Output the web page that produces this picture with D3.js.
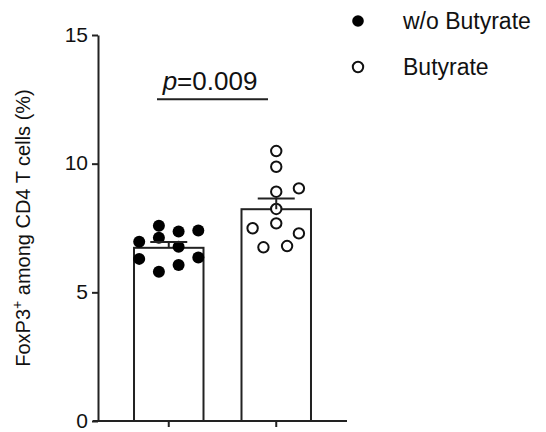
<!DOCTYPE html>
<html>
<head>
<meta charset="utf-8">
<script src="https://cdn.jsdelivr.net/npm/d3@7"></script>
<style>
  html, body { margin: 0; padding: 0; background: #fff; }
  svg { display: block; font-family: "Liberation Sans", Arial, sans-serif; }
</style>
</head>
<body>
<svg id="chart" width="546" height="432"></svg>
<script>
// Groups and their bar summaries (mean ± SEM, %)
const groups = ["w/o Butyrate", "Butyrate"];
const means = [6.73, 8.23];
const sems = [0.23, 0.42];

// Individual samples per group, with the dot column each one sits in
const ctrlValues = [7.59, 6.97, 7.12, 7.36, 7.40, 6.77, 6.30, 6.35, 6.06, 5.80];
const ctrlSlots  = [-0.5, -1.5, -0.5, 0.5, 1.5, 0.5, -1.5, 1.5, 0.5, -0.5];
const butValues  = [10.49, 9.88, 8.91, 9.04, 8.24, 7.68, 7.49, 7.29, 6.75, 6.80];
const butSlots   = [0, 0, 0, 1.15, 0, 0, -1.2, 1.15, -0.65, 0.55];

const yTicks = [0, 5, 10, 15];
const pLabel = "0.009";
const bracketLevel = 12.5;

const svg = d3.select("#chart");
const font = "'Liberation Sans', Arial, sans-serif";

const x = d3.scaleBand().domain(groups).range([98, 347])
  .paddingInner(0.3535).paddingOuter(0.335);
const y = d3.scaleLinear().domain([0, 15]).range([421, 35]);

const slotWidth = 19.7;
const dotR = 6;

// Bars
svg.selectAll("rect.bar").data(groups).join("rect")
  .attr("class", "bar")
  .attr("x", d => x(d))
  .attr("y", (d, i) => y(means[i]))
  .attr("width", x.bandwidth())
  .attr("height", (d, i) => y(0) - y(means[i]))
  .attr("fill", "#fff")
  .attr("stroke", "#222")
  .attr("stroke-width", 2);

// Sample dots
const dots = [];
ctrlValues.forEach((v, i) => dots.push({ g: groups[0], v, s: ctrlSlots[i], filled: true }));
butValues.forEach((v, i) => dots.push({ g: groups[1], v, s: butSlots[i], filled: false }));

svg.selectAll("circle.dot").data(dots).join("circle")
  .attr("class", "dot")
  .attr("cx", d => x(d.g) + x.bandwidth() / 2 + d.s * slotWidth)
  .attr("cy", d => y(d.v))
  .attr("r", d => d.filled ? dotR : dotR - 0.8)
  .attr("fill", d => d.filled ? "#000" : "#fff")
  .attr("stroke", d => d.filled ? "none" : "#111")
  .attr("stroke-width", 2);

// Error bars (upper SEM)
const capHalf = 18.5;
groups.forEach((g, i) => {
  const cx = x(g) + x.bandwidth() / 2;
  svg.append("line")
    .attr("x1", cx).attr("x2", cx)
    .attr("y1", y(means[i])).attr("y2", y(means[i] + sems[i]))
    .attr("stroke", "#222").attr("stroke-width", 2);
  svg.append("line")
    .attr("x1", cx - capHalf).attr("x2", cx + capHalf)
    .attr("y1", y(means[i] + sems[i])).attr("y2", y(means[i] + sems[i]))
    .attr("stroke", "#222").attr("stroke-width", 2);
});

// Y axis
const yAxis = svg.append("g")
  .attr("transform", "translate(98,0)")
  .call(d3.axisLeft(y).tickValues(yTicks).tickSize(6).tickPadding(4).tickSizeOuter(0));
yAxis.select(".domain").attr("stroke", "#222").attr("stroke-width", 2);
yAxis.selectAll(".tick line").attr("stroke", "#222").attr("stroke-width", 2);
yAxis.selectAll(".tick text")
  .attr("font-family", font).attr("font-size", 21).attr("dy", "0.3em").attr("fill", "#111");

// X axis (no labels)
const xAxis = svg.append("g")
  .attr("transform", `translate(0,${y(0)})`)
  .call(d3.axisBottom(x).tickSize(6).tickSizeOuter(0).tickFormat(""));
xAxis.select(".domain").attr("d", "M93,0H347").attr("stroke", "#222").attr("stroke-width", 2);
xAxis.selectAll(".tick line").attr("stroke", "#222").attr("stroke-width", 2);

// Y axis title
const yTitle = svg.append("text")
  .attr("transform", `translate(30,${(y(0) + y(15)) / 2}) rotate(-90)`)
  .attr("text-anchor", "middle")
  .attr("font-family", font).attr("font-size", 20).attr("fill", "#111");
yTitle.append("tspan").text("FoxP3");
yTitle.append("tspan").text("+").attr("font-size", 14).attr("dy", -8);
yTitle.append("tspan").text(" among CD4 T cells (%)").attr("dy", 8);

// Significance bracket
svg.append("line")
  .attr("x1", 157).attr("x2", 268)
  .attr("y1", y(bracketLevel)).attr("y2", y(bracketLevel))
  .attr("stroke", "#222").attr("stroke-width", 2);
const pText = svg.append("text")
  .attr("x", 210).attr("y", y(bracketLevel) - 9)
  .attr("text-anchor", "middle")
  .attr("font-family", font).attr("font-size", 26).attr("fill", "#111");
pText.append("tspan").text("p").attr("font-style", "italic");
pText.append("tspan").text("=" + pLabel);

// Legend
const legend = svg.append("g");
groups.forEach((g, i) => {
  const ly = 21 + i * 46;
  legend.append("circle")
    .attr("cx", 358).attr("cy", ly)
    .attr("r", i === 0 ? 5.8 : 5.2)
    .attr("fill", i === 0 ? "#000" : "#fff")
    .attr("stroke", i === 0 ? "none" : "#111")
    .attr("stroke-width", 2);
  legend.append("text")
    .attr("x", 403).attr("y", ly + 8)
    .attr("font-family", font).attr("font-size", 23).attr("fill", "#111")
    .text(g);
});
</script>
</body>
</html>
